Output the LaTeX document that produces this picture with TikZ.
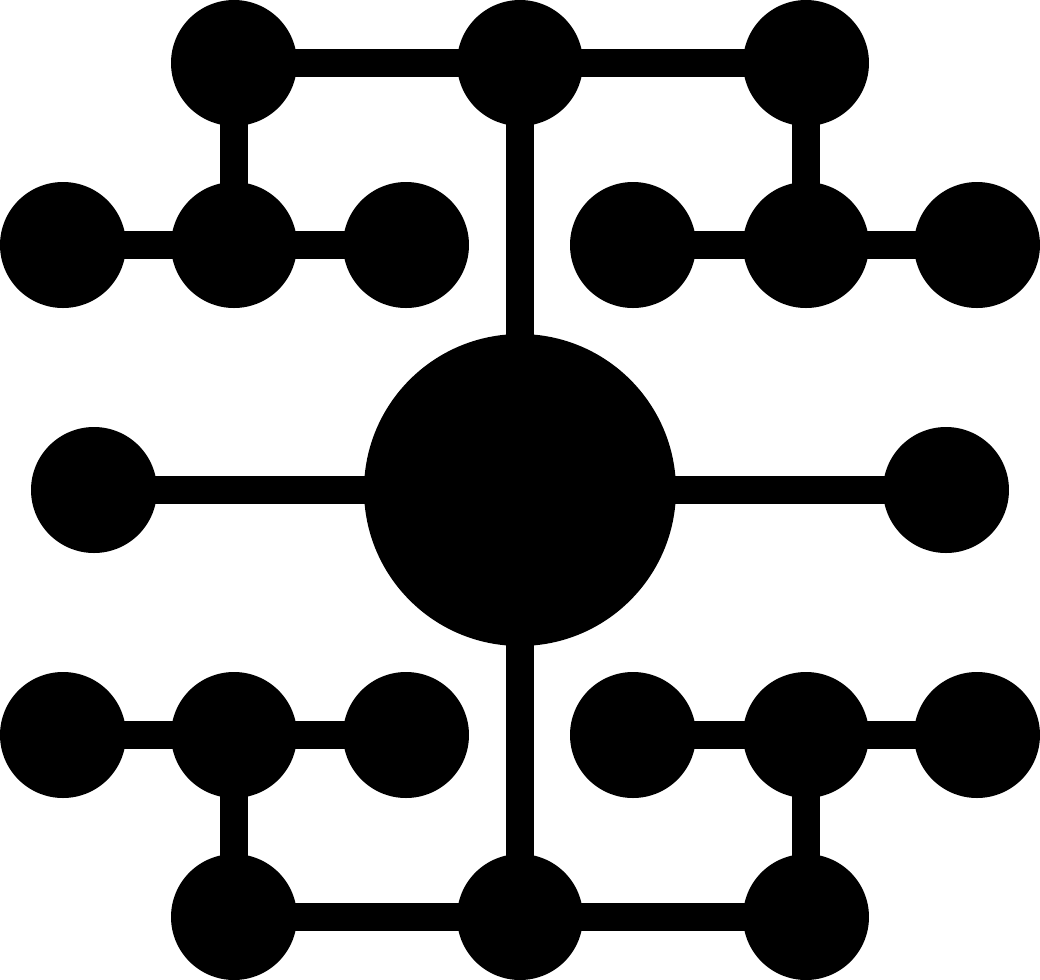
\documentclass[tikz,border=0pt]{standalone}
\usepackage{tikz}
\tikzset{
  dot/.style={circle, fill=black, inner sep=0pt, outer sep=0pt, minimum size=12.6mm},
  hubdot/.style={circle, fill=black, inner sep=0pt, outer sep=0pt, minimum size=31.2mm},
  link/.style={draw=black, line width=2.8mm, shorten <=-2pt, shorten >=-2pt}
}
\begin{document}
\begin{tikzpicture}[x=0.1mm, y=-0.1mm]
  \useasboundingbox (0,0) rectangle (1040,980);

  % top group
  \node[dot] (t1) at (234,63) {};
  \node[dot] (t2) at (520,63) {};
  \node[dot] (t3) at (806,63) {};
  \node[dot] (ul1) at (63,245) {};
  \node[dot] (ul2) at (234,245) {};
  \node[dot] (ul3) at (406,245) {};
  \node[dot] (ur1) at (633,245) {};
  \node[dot] (ur2) at (806,245) {};
  \node[dot] (ur3) at (977,245) {};

  % middle
  \node[dot] (ml) at (94,490) {};
  \node[hubdot] (hub) at (520,490) {};
  \node[dot] (mr) at (946,490) {};

  % bottom group
  \node[dot] (ll1) at (63,735) {};
  \node[dot] (ll2) at (234,735) {};
  \node[dot] (ll3) at (406,735) {};
  \node[dot] (lr1) at (633,735) {};
  \node[dot] (lr2) at (806,735) {};
  \node[dot] (lr3) at (977,735) {};
  \node[dot] (b1) at (234,917) {};
  \node[dot] (b2) at (520,917) {};
  \node[dot] (b3) at (806,917) {};

  \draw[link] (t1) -- (t2);
  \draw[link] (t2) -- (t3);
  \draw[link] (t1) -- (ul2);
  \draw[link] (t3) -- (ur2);
  \draw[link] (t2) -- (hub);
  \draw[link] (ul1) -- (ul2);
  \draw[link] (ul2) -- (ul3);
  \draw[link] (ur1) -- (ur2);
  \draw[link] (ur2) -- (ur3);

  \draw[link] (ml) -- (hub);
  \draw[link] (hub) -- (mr);

  \draw[link] (hub) -- (b2);
  \draw[link] (b1) -- (b2);
  \draw[link] (b2) -- (b3);
  \draw[link] (ll2) -- (b1);
  \draw[link] (lr2) -- (b3);
  \draw[link] (ll1) -- (ll2);
  \draw[link] (ll2) -- (ll3);
  \draw[link] (lr1) -- (lr2);
  \draw[link] (lr2) -- (lr3);
\end{tikzpicture}
\end{document}
